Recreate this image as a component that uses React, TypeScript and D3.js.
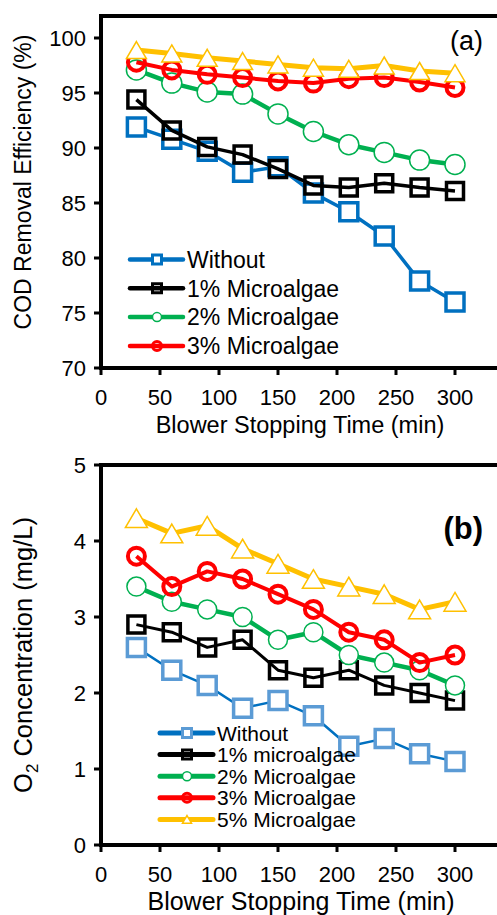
import React, { useEffect, useRef } from "react";
import * as d3 from "d3";

// blower stopping time (min)
const times = [30, 60, 90, 120, 150, 180, 210, 240, 270, 300];

// (a) COD removal efficiency (%)
const codWithout = [91.9, 90.8, 89.7, 87.8, 88.3, 85.9, 84.2, 82.0, 77.9, 76.0];
const cod1 = [94.4, 91.6, 90.1, 89.4, 88.1, 86.6, 86.4, 86.8, 86.4, 86.1];
const cod2 = [97.1, 95.9, 95.1, 94.9, 93.1, 91.5, 90.3, 89.6, 88.9, 88.5];
const cod3 = [97.8, 97.1, 96.7, 96.4, 96.1, 95.9, 96.3, 96.4, 96.0, 95.5];
const cod5 = [98.9, 98.6, 98.2, 97.9, 97.6, 97.3, 97.2, 97.5, 97.0, 96.8];

// (b) O2 concentration (mg/L)
const o2Without = [2.6, 2.3, 2.1, 1.8, 1.9, 1.7, 1.3, 1.4, 1.2, 1.1];
const o2One = [2.9, 2.8, 2.6, 2.7, 2.3, 2.2, 2.3, 2.1, 2.0, 1.9];
const o2Two = [3.4, 3.2, 3.1, 3.0, 2.7, 2.8, 2.5, 2.4, 2.3, 2.1];
const o2Three = [3.8, 3.4, 3.6, 3.5, 3.3, 3.1, 2.8, 2.7, 2.4, 2.5];
const o2Five = [4.3, 4.1, 4.2, 3.9, 3.7, 3.5, 3.4, 3.3, 3.1, 3.2];

const xTicks = [0, 50, 100, 150, 200, 250, 300];
const codTicks = [70, 75, 80, 85, 90, 95, 100];
const o2Ticks = [0, 1, 2, 3, 4, 5];

const legendA = ["Without", "1% Microalgae", "2% Microalgae", "3% Microalgae"];
const legendB = ["Without", "1% microalgae", "2% Microalgae", "3% Microalgae", "5% Microalgae"];

const FONT = "Arial, 'Liberation Sans', sans-serif";

const BLUE = "#0070C0";
const LIGHTBLUE = "#5B9BD5";
const GREEN = "#00B050";
const RED = "#FF0000";
const YELLOW = "#FFC000";

const markerPath = (shape, s) => {
  const h = s / 2;
  if (shape === "square") return `M${-h},${-h}H${h}V${h}H${-h}Z`;
  if (shape === "triangle") {
    const th = s * 0.85;
    return `M0,${-th / 2}L${h},${th / 2}L${-h},${th / 2}Z`;
  }
  return `M${-h},0A${h},${h} 0 1,0 ${h},0A${h},${h} 0 1,0 ${-h},0Z`;
};

const drawPanel = (g, cfg) => {
  const { x, y, yTicks, series, legend, yTitle, tag } = cfg;
  const [y0, y1] = y.range();
  const x0 = x.range()[0];

  // frame: left axis, bottom axis, top border
  g.append("line").attr("x1", x0).attr("x2", 520).attr("y1", y1).attr("y2", y1)
    .attr("stroke", "#000").attr("stroke-width", 4);
  g.append("line").attr("x1", x0).attr("x2", 520).attr("y1", y0).attr("y2", y0)
    .attr("stroke", "#000").attr("stroke-width", 4);
  g.append("line").attr("x1", x0).attr("x2", x0).attr("y1", y1 - 2).attr("y2", y0 + 2)
    .attr("stroke", "#000").attr("stroke-width", 4);

  // y ticks
  yTicks.forEach(t => {
    g.append("line").attr("x1", x0 - 7).attr("x2", x0).attr("y1", y(t)).attr("y2", y(t))
      .attr("stroke", "#000").attr("stroke-width", 3);
    g.append("text").attr("x", x0 - 15).attr("y", y(t)).attr("dy", "0.36em")
      .attr("text-anchor", "end").style("font-size", "22px").text(t);
  });

  // x ticks
  xTicks.forEach(t => {
    g.append("line").attr("x1", x(t)).attr("x2", x(t)).attr("y1", y0).attr("y2", y0 + 7)
      .attr("stroke", "#000").attr("stroke-width", 3);
    g.append("text").attr("x", x(t)).attr("y", y0 + 37)
      .attr("text-anchor", "middle").style("font-size", "22px").text(t);
  });

  g.append("text").attr("x", cfg.xTitleX).attr("y", y0 + 65)
    .attr("text-anchor", "middle").style("font-size", cfg.xTitleSize + "px")
    .text("Blower Stopping Time (min)");

  const yt = g.append("text")
    .attr("transform", `translate(${cfg.yTitleX},${cfg.yTitleY}) rotate(-90)`)
    .attr("text-anchor", "middle").style("font-size", cfg.yTitleSize + "px");
  yTitle(yt);

  g.append("text").attr("x", tag.x).attr("y", tag.y).attr("text-anchor", "end")
    .style("font-size", tag.size + "px").style("font-weight", tag.weight).text(tag.text);

  const line = d3.line().x((d, i) => x(times[i])).y(d => y(d));

  series.forEach(s => {
    g.append("path").attr("d", line(s.values)).attr("fill", "none")
      .attr("stroke", s.lineColor).attr("stroke-width", s.lw).attr("stroke-linejoin", "round");
    g.selectAll(null).data(s.values).enter().append("path")
      .attr("transform", (d, i) => `translate(${x(times[i])},${y(d)})`)
      .attr("d", markerPath(s.shape, s.size))
      .attr("fill", s.fill).attr("stroke", s.markerColor).attr("stroke-width", s.mw)
      .attr("stroke-linejoin", "miter");
  });

  // legend
  legend.labels.forEach((label, i) => {
    const s = series[i];
    const ly = legend.y + i * legend.dy;
    g.append("line").attr("x1", legend.x).attr("x2", legend.x + 53).attr("y1", ly).attr("y2", ly)
      .attr("stroke", s.lineColor).attr("stroke-width", legend.lw).attr("stroke-linecap", "round");
    g.append("path").attr("transform", `translate(${legend.x + 27},${ly})`)
      .attr("d", markerPath(s.shape, legend.ms))
      .attr("fill", s.fill).attr("stroke", s.markerColor)
      .attr("stroke-width", Math.min(s.mw, 3));
    g.append("text").attr("x", legend.x + 57).attr("y", ly).attr("dy", "0.36em")
      .style("font-size", legend.size + "px").text(label);
  });
};

const App = () => {
  const svgRef = useRef();

  useEffect(() => {
    const svg = d3.select(svgRef.current);
    svg.selectAll("*").remove();
    svg.style("font-family", FONT);

    const x = d3.scaleLinear().domain([0, 350]).range([101, 514]);

    // panel (a)
    const yA = d3.scaleLinear().domain([70, 102]).range([368, 16]);
    drawPanel(svg.append("g"), {
      x, y: yA, yTicks: codTicks,
      xTitleX: 300, xTitleSize: 23.5,
      yTitleX: 31, yTitleY: 182, yTitleSize: 23,
      yTitle: t => t.text("COD Removal Efficiency (%)"),
      tag: { x: 483, y: 50, size: 27, weight: "normal", text: "(a)" },
      series: [
        { values: codWithout, lineColor: BLUE, markerColor: BLUE, lw: 3.5, shape: "square", size: 18, mw: 3.5, fill: "#fff" },
        { values: cod1, lineColor: "#000", markerColor: "#000", lw: 3.5, shape: "square", size: 17, mw: 3.5, fill: "none" },
        { values: cod2, lineColor: GREEN, markerColor: GREEN, lw: 4.5, shape: "circle", size: 20, mw: 1.5, fill: "#fff" },
        { values: cod3, lineColor: RED, markerColor: RED, lw: 4, shape: "circle", size: 17, mw: 4, fill: "none" },
        { values: cod5, lineColor: YELLOW, markerColor: YELLOW, lw: 5, shape: "triangle", size: 20, mw: 1.5, fill: "#fff" },
      ],
      legend: { labels: legendA, x: 130, y: 259.5, dy: 28.8, lw: 4.5, ms: 9, size: 23 },
    });

    // panel (b)
    const yB = d3.scaleLinear().domain([0, 5]).range([845, 465]);
    drawPanel(svg.append("g"), {
      x, y: yB, yTicks: o2Ticks,
      xTitleX: 301, xTitleSize: 25,
      yTitleX: 32, yTitleY: 655, yTitleSize: 25.5,
      yTitle: t => {
        t.append("tspan").text("O");
        t.append("tspan").attr("dy", 6).style("font-size", "17px").text("2");
        t.append("tspan").attr("dy", -6).text(" Concentration (mg/L)");
      },
      tag: { x: 483, y: 539, size: 31, weight: "bold", text: "(b)" },
      series: [
        { values: o2Without, lineColor: BLUE, markerColor: LIGHTBLUE, lw: 2.5, shape: "square", size: 18, mw: 3.5, fill: "#fff" },
        { values: o2One, lineColor: "#000", markerColor: "#000", lw: 3, shape: "square", size: 17, mw: 3.5, fill: "none" },
        { values: o2Two, lineColor: GREEN, markerColor: GREEN, lw: 4.5, shape: "circle", size: 19, mw: 1.5, fill: "#fff" },
        { values: o2Three, lineColor: RED, markerColor: RED, lw: 4, shape: "circle", size: 17, mw: 4, fill: "none" },
        { values: o2Five, lineColor: YELLOW, markerColor: YELLOW, lw: 5, shape: "triangle", size: 22, mw: 1.5, fill: "#fff" },
      ],
      legend: { labels: legendB, x: 160, y: 733, dy: 21.6, lw: 5, ms: 9, size: 21 },
    });
  }, []);

  return (
    <div style={{ position: "absolute", left: 0, top: 0 }}>
      <svg ref={svgRef} width={497} height={915} style={{ display: "block", background: "#fff" }}></svg>
    </div>
  );
};

export default App;
